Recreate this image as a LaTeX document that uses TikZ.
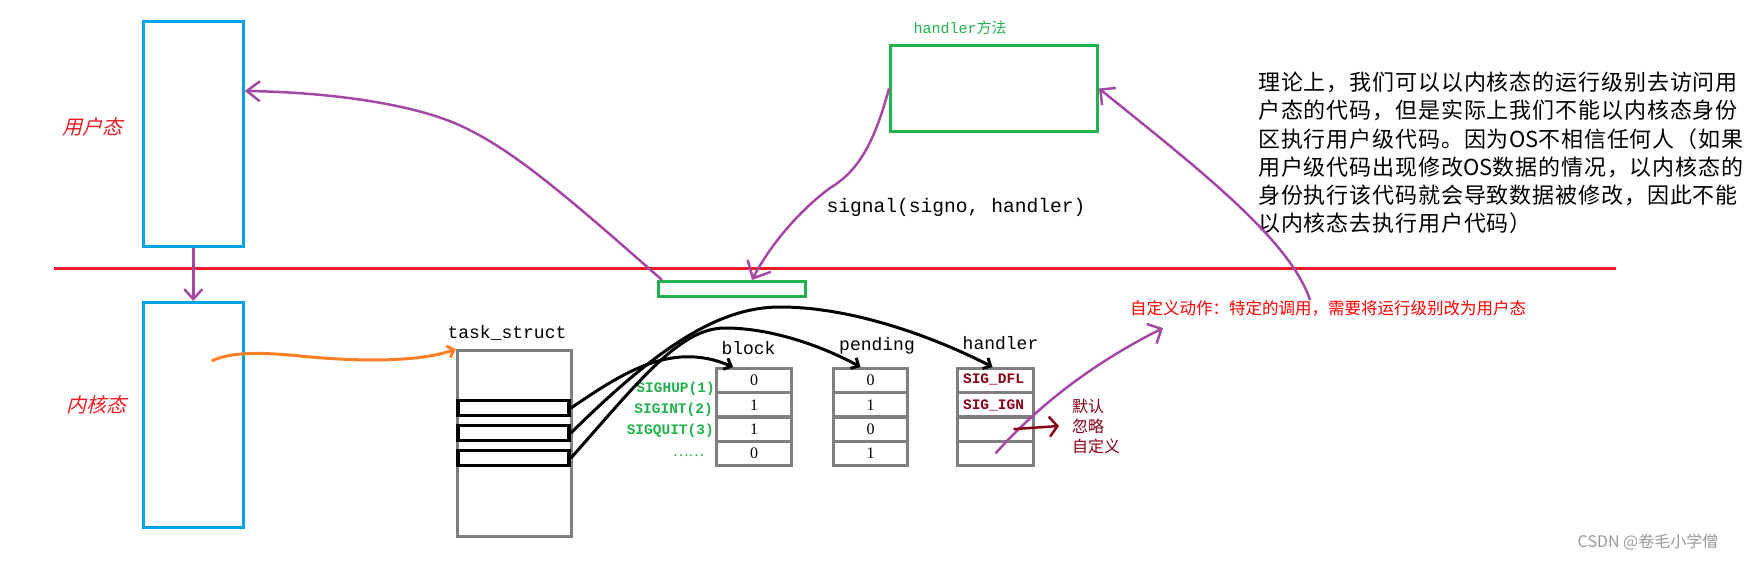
\documentclass[tikz,border=0pt]{standalone}
\usepackage{fontspec}
\setmainfont{Liberation Serif}
\newfontfamily\cjk{Noto Sans CJK SC}
\newfontfamily\cjkit[FakeSlant=0.25]{Noto Sans CJK SC}
\newfontfamily\cjksp[LetterSpace=4]{Noto Sans CJK SC}
\newfontfamily\mono{Liberation Mono}
\usetikzlibrary{arrows.meta}
\definecolor{pblue}{HTML}{00A2E8}
\definecolor{pred}{HTML}{ED1C24}
\definecolor{ppurple}{HTML}{A349A4}
\definecolor{pgreen}{HTML}{22B14C}
\definecolor{porange}{HTML}{FF7F27}
\definecolor{pgray}{HTML}{7F7F7F}
\definecolor{pdred}{HTML}{880015}
\definecolor{wmark}{HTML}{9A9A9A}
\tikzset{
  bluebox/.style={draw=pblue, line width=3, inner sep=0, minimum width=100, minimum height=225},
  greenbox/.style={draw=pgreen, line width=3, inner sep=0},
  graybox/.style={draw=pgray, line width=3, inner sep=0},
  slotbox/.style={draw=black, line width=3.5, inner sep=0, minimum width=111, minimum height=15},
  cell/.style={draw=pgray, line width=3, inner sep=0, minimum height=24.25, font={\fontsize{16}{18}\selectfont}},
  redlab/.style={text=pred, font={\cjkit\fontsize{20}{24}\selectfont}, inner sep=0},
  caption/.style={font={\mono\fontsize{18}{20}\selectfont}, inner sep=0},
  siglab/.style={text=pgreen, font={\mono\bfseries\fontsize{14.5}{16}\selectfont}, inner sep=0, anchor=east},
  hval/.style={text=pdred, font={\mono\bfseries\fontsize{14.5}{16}\selectfont}},
  para/.style={font={\cjksp\fontsize{22}{28}\selectfont}, inner sep=0, anchor=west},
  purp/.style={draw=ppurple, line width=2.5, -{Straight Barb[length=11pt,width=22pt]}},
  blk/.style={draw=black, line width=3, -{Straight Barb[length=6pt,width=12pt]}},
}
\begin{document}
\begin{tikzpicture}[x=1pt,y=-1pt]
\useasboundingbox (0,0) rectangle (1748,560);

% divider
\coordinate (rl) at (53.6,268);
\coordinate (rr) at (1616,268);

% user / kernel boxes
\node[bluebox] (ub) at (193.3,134) {};
\node[bluebox] (lb) at (193.3,415) {};
\node[redlab] (ul) at (92.5,127) {用户态};
\node[redlab] (kl) at (96.5,405) {内核态};

% handler method boxes
\node[greenbox, minimum width=207, minimum height=86] (bg) at (994,88.5) {};
\node[greenbox, minimum width=147, minimum height=15] (sg) at (732,289) {};
\node[text=pgreen, font={\mono\fontsize{15}{18}\selectfont}, inner sep=0] (hm) at (960,28) {handler{\cjk 方法}};
\node[font={\mono\fontsize{19.6}{22}\selectfont}, inner sep=0] (sig) at (956,207) {signal(signo, handler)};

% task_struct
\node[caption] (tsl) at (507,333) {task\_struct};
\node[graybox, minimum width=114, minimum height=186] (ts) at (514.5,443.5) {};
\node[slotbox] (r1) at (513.7,408) {};
\node[slotbox] (r2) at (513.7,433) {};
\node[slotbox] (r3) at (513.7,458) {};

% block array
\node[caption] (bl) at (748.5,348) {block};
\node[cell, minimum width=75] (b1) at (754,380.6) {0};
\node[cell, minimum width=75] (b2) at (754,404.9) {1};
\node[cell, minimum width=75] (b3) at (754,429.1) {1};
\node[cell, minimum width=75] (b4) at (754,453.4) {0};

% pending array
\node[caption] (pl) at (877,346) {pending};
\node[cell, minimum width=74] (p1) at (870.5,380.6) {0};
\node[cell, minimum width=74] (p2) at (870.5,404.9) {1};
\node[cell, minimum width=74] (p3) at (870.5,429.1) {0};
\node[cell, minimum width=74] (p4) at (870.5,453.4) {1};

% handler array
\node[caption] (hl) at (1000.5,343) {handler};
\node[cell, minimum width=76] (h1) at (995.5,380.6) {};
\node[cell, minimum width=76] (h2) at (995.5,404.9) {};
\node[cell, minimum width=76] (h3) at (995.5,429.1) {};
\node[cell, minimum width=76] (h4) at (995.5,453.4) {};
\node[hval] (dfl) at (993.5,379) {SIG\_DFL};
\node[hval] (ign) at (993.5,405) {SIG\_IGN};

% signal names
\node[siglab] (s1) at (715,389) {SIGHUP(1)};
\node[siglab] (s2) at (713,410) {SIGINT(2)};
\node[siglab] (s3) at (714,431) {SIGQUIT(3)};
\node[text=pgreen, font={\cjk\fontsize{14.5}{16}\selectfont}, inner sep=0] (s4) at (688.5,456) {……};

% actions
\node[text=pdred, font={\cjk\fontsize{16}{20}\selectfont}, inner sep=0, anchor=west, align=left] (acts) at (1072,426) {默认\\忽略\\自定义};
\node[text=red, font={\cjk\fontsize{16.5}{20}\selectfont}, inner sep=0, anchor=west] (cust) at (1130,308) {自定义动作：特定的调用，需要将运行级别改为用户态};

% explanation paragraph
\node[para] (t1) at (1258,82) {理论上，我们可以以内核态的运行级别去访问用};
\node[para] (t2) at (1258,110.7) {户态的代码，但是实际上我们不能以内核态身份};
\node[para] (t3) at (1258,139) {区执行用户级代码。因为{\cjk OS}不相信任何人（如果};
\node[para] (t4) at (1258,167) {用户级代码出现修改{\cjk OS}数据的情况，以内核态的};
\node[para] (t5) at (1258,195) {身份执行该代码就会导致数据被修改，因此不能};
\node[para] (t6) at (1258,222.7) {以内核态去执行用户代码）};

% watermark
\node[text=wmark, font={\cjk\fontsize{16}{18}\selectfont}, inner sep=0] (wm) at (1648,542) {CSDN @卷毛小学僧};

% red divider line
\draw[pred, line width=3] (rl) -- (rr);

% purple connectors
\draw[purp, -{Straight Barb[length=10pt,width=18pt]}] (ub.south) -- (lb.north);
\draw[purp, -{Straight Barb[length=13pt,width=20pt]}] ([xshift=5pt]sg.north west) .. controls (560,190) and (510,148) .. (459,125) .. controls (408,102) and (320,92) .. ([yshift=43pt]ub.east);
\draw[purp, -{Straight Barb[length=14pt,width=26pt]}] (bg.west) .. controls (875,140) and (860,170) .. (830,188) .. controls (800,210) and (770,245) .. ([xshift=20pt]sg.north);
\coordinate (cstart) at (1310,300);
\draw[purp] (cstart) .. controls (1290,240) and (1200,170) .. (bg.east);
\coordinate (cend) at (1163,328);
\draw[purp] (h4.center) .. controls (1030,415) and (1080,370) .. (cend);

% dark red arrow
\draw[pdred, line width=2.5, -{Straight Barb[length=8pt,width=20pt]}] ([xshift=18pt]h3.center) -- ([xshift=-13pt]acts.west);

% orange connector
\coordinate (ostart) at (211.6,361);
\draw[porange, line width=3, -{Straight Barb[length=6pt,width=12pt]}] (ostart) .. controls (230,352) and (260,352) .. (300,356) .. controls (360,362) and (420,362) .. (ts.north west);

% black connectors
\draw[blk] (r1.east) .. controls (620,375) and (670,340) .. ([xshift=-21pt]b1.north);
\draw[blk] (r2.east) .. controls (660,345) and (720,307) .. (780,307) .. controls (850,307) and (930,335) .. ([xshift=-3pt]h1.north);
\draw[blk] (r3.east) .. controls (640,380) and (680,328) .. (725,328) .. controls (770,328) and (820,345) .. ([xshift=-10pt]p1.north);
\end{tikzpicture}
\end{document}
